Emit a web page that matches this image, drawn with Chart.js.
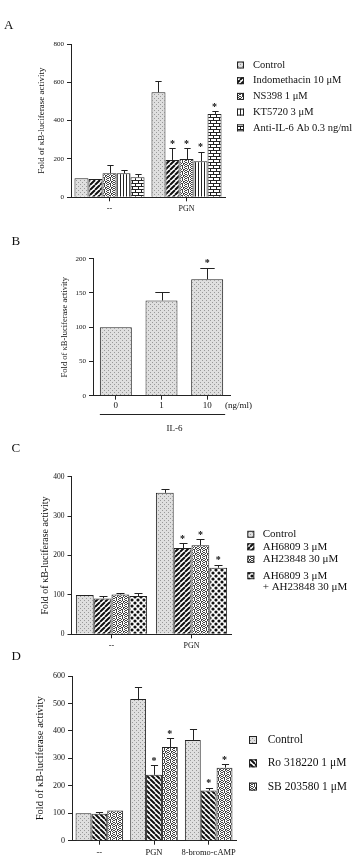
<!DOCTYPE html>
<html>
<head>
<meta charset="utf-8">
<script src="https://cdn.jsdelivr.net/npm/chart.js@4.4.1/dist/chart.umd.min.js"></script>
<style>
  body { margin: 0; background: #fff; }
  #page { position: relative; width: 362px; height: 860px; overflow: hidden; font-family: "Liberation Serif", serif; color: #111; }
  canvas { position: absolute; left: 0; }
  .tag { position: absolute; font-size: 13px; line-height: 13px; }
</style>
</head>
<body>
<div id="page">
  <canvas id="chartA" width="362" height="222" style="top:0px"></canvas>
  <canvas id="chartB" width="362" height="210" style="top:222px"></canvas>
  <canvas id="chartC" width="362" height="222" style="top:432px"></canvas>
  <canvas id="chartD" width="362" height="206" style="top:654px"></canvas>
  <div class="tag" style="left:4px;top:18px">A</div>
  <div class="tag" style="left:11.5px;top:234px">B</div>
  <div class="tag" style="left:11.5px;top:441px">C</div>
  <div class="tag" style="left:11.5px;top:649px">D</div>
</div>
<script>
// panel A
const labelsA = ['--', 'PGN'];
const controlA = [100, 548];
const controlErrA = [0, 60];
const indoA = [96, 195];
const indoErrA = [0, 60];
const ns398A = [126, 200];
const ns398ErrA = [42, 55];
const kt5720A = [125, 188];
const kt5720ErrA = [17, 50];
const antiIL6A = [104, 435];
const antiIL6ErrA = [17, 15];
const starsA = [0, 1];

// panel B
const labelsB = ['0', '1', '10'];
const il6B = [100, 139, 170];
const il6ErrB = [0, 12, 17];
const starsB = [0, 0, 1];

// panel C
const labelsC = ['--', 'PGN'];
const controlC = [100, 359];
const controlErrC = [0, 10];
const ah6809C = [91, 219];
const ah6809ErrC = [5, 12];
const ah23848C = [101, 226];
const ah23848ErrC = [5, 15];
const comboC = [97, 169];
const comboErrC = [9, 7];
const starsC = [0, 1];

// panel D
const labelsD = ['--', 'PGN', '8-bromo-cAMP'];
const controlD = [100, 516, 367];
const controlErrD = [0, 44, 41];
const roD = [98, 240, 183];
const roErrD = [8, 34, 10];
const sbD = [110, 341, 266];
const sbErrD = [0, 32, 13];
const starsD = [0, 1, 1];

const yTitle = 'Fold of κB-luciferase activity';

Chart.defaults.font.family = '"Liberation Serif", "Times New Roman", serif';
Chart.defaults.color = '#111';

function makePattern(kind) {
    const c = document.createElement('canvas');
    let g;
    if (kind === 'control') {
        c.width = 4; c.height = 4; g = c.getContext('2d');
        g.fillStyle = '#dfdfdf'; g.fillRect(0, 0, 4, 4);
        g.fillStyle = '#999'; g.fillRect(0, 0, 1, 1); g.fillRect(2, 2, 1, 1);
    } else if (kind === 'fwd' || kind === 'back') {
        c.width = 5; c.height = 5; g = c.getContext('2d');
        g.fillStyle = '#fff'; g.fillRect(0, 0, 5, 5);
        g.strokeStyle = '#111'; g.lineWidth = 2;
        g.beginPath();
        [-5, 0, 5].forEach(function (k) {
            if (kind === 'fwd') { g.moveTo(k, 5); g.lineTo(k + 5, 0); }
            else { g.moveTo(k, 0); g.lineTo(k + 5, 5); }
        });
        g.stroke();
    } else if (kind === 'speckle') {
        const rows = ['#.#..#', '.#.##.', '#..#.#', '.##.#.', '#.#..#', '..#.#.'];
        c.width = 6; c.height = 6; g = c.getContext('2d');
        g.fillStyle = '#fff'; g.fillRect(0, 0, 6, 6);
        g.fillStyle = '#444';
        rows.forEach(function (r, y) {
            for (let x = 0; x < 6; x++) if (r[x] === '#') g.fillRect(x, y, 1, 1);
        });
    } else if (kind === 'vert') {
        c.width = 3; c.height = 1; g = c.getContext('2d');
        g.fillStyle = '#fff'; g.fillRect(0, 0, 3, 1);
        g.fillStyle = '#222'; g.fillRect(0, 0, 1, 1);
    } else if (kind === 'brick') {
        c.width = 6; c.height = 6; g = c.getContext('2d');
        g.fillStyle = '#fff'; g.fillRect(0, 0, 6, 6);
        g.fillStyle = '#222';
        g.fillRect(0, 0, 6, 1); g.fillRect(0, 3, 6, 1);
        g.fillRect(0, 1, 1, 2); g.fillRect(3, 4, 1, 2);
    } else if (kind === 'dots') {
        c.width = 6; c.height = 6; g = c.getContext('2d');
        g.fillStyle = '#fff'; g.fillRect(0, 0, 6, 6);
        g.fillStyle = '#111';
        [[0, 0], [6, 0], [0, 6], [6, 6], [3, 3]].forEach(function (p) {
            g.beginPath(); g.arc(p[0], p[1], 1.6, 0, Math.PI * 2); g.fill();
        });
    }
    return g.createPattern(c, 'repeat');
}

const errorMarks = {
    id: 'errorMarks',
    afterDatasetsDraw(chart) {
        const ctx = chart.ctx, yScale = chart.scales.y;
        ctx.save();
        ctx.strokeStyle = '#222';
        ctx.lineWidth = 1;
        ctx.fillStyle = '#111';
        ctx.textAlign = 'center';
        ctx.textBaseline = 'alphabetic';
        ctx.font = 'bold 10px "Liberation Serif"';
        chart.data.datasets.forEach(function (ds, i) {
            chart.getDatasetMeta(i).data.forEach(function (bar, j) {
                const err = ds.errors ? ds.errors[j] : 0;
                let top = bar.y;
                if (err > 0) {
                    top = yScale.getPixelForValue(ds.data[j] + err);
                    const cap = bar.width * 0.45;
                    const cx = Math.round(bar.x) + 0.5;
                    const ty = Math.round(top) + 0.5;
                    ctx.beginPath();
                    ctx.moveTo(cx, bar.y);
                    ctx.lineTo(cx, ty);
                    ctx.moveTo(cx - cap / 2, ty);
                    ctx.lineTo(cx + cap / 2, ty);
                    ctx.stroke();
                }
                if (ds.stars && ds.stars[j]) ctx.fillText('*', bar.x, top - 1.5);
            });
        });
        ctx.restore();
    }
};

const boxLegend = {
    id: 'boxLegend',
    afterDraw(chart, args, o) {
        const ctx = chart.ctx;
        let y = o.top;
        ctx.save();
        ctx.font = o.size + 'px "Liberation Serif"';
        ctx.textBaseline = 'middle';
        ctx.textAlign = 'left';
        chart.data.datasets.forEach(function (ds) {
            const lines = ds.label.split('\n');
            if (lines.length > 1) y += o.extra;
            ctx.fillStyle = ds.backgroundColor;
            ctx.fillRect(o.x, y - o.box / 2, o.box, o.box);
            ctx.strokeStyle = '#222';
            ctx.lineWidth = 1;
            ctx.strokeRect(o.x + 0.5, y - o.box / 2 + 0.5, o.box - 1, o.box - 1);
            ctx.fillStyle = '#111';
            lines.forEach(function (t, k) { ctx.fillText(t, o.textX, y + k * o.lineHeight); });
            y += o.gap + (lines.length - 1) * o.lineHeight;
        });
        ctx.restore();
    }
};

const doseAxis = {
    id: 'doseAxis',
    afterDraw(chart, args, o) {
        const ctx = chart.ctx, area = chart.chartArea;
        const bars = chart.getDatasetMeta(0).data;
        const first = bars[0], last = bars[bars.length - 1];
        const x1 = first.x - first.width / 2, x2 = last.x + last.width / 2 + 2;
        ctx.save();
        ctx.fillStyle = '#111';
        ctx.font = o.size + 'px "Liberation Serif"';
        ctx.textBaseline = 'middle';
        ctx.textAlign = 'left';
        ctx.fillText(o.unit, area.right - 5, area.bottom + 9.5);
        ctx.strokeStyle = '#222';
        ctx.lineWidth = 1;
        ctx.beginPath();
        ctx.moveTo(x1, Math.round(area.bottom + 18.3) + 0.5);
        ctx.lineTo(x2, Math.round(area.bottom + 18.3) + 0.5);
        ctx.stroke();
        ctx.textAlign = 'center';
        ctx.fillText(o.group, (x1 + x2) / 2 + 12, area.bottom + 32.6);
        ctx.restore();
    }
};

function barChart(id, labels, datasets, o) {
    var ctx = document.getElementById(id).getContext('2d');
    return new Chart(ctx, {
        type: 'bar',
        data: { labels: labels, datasets: datasets },
        options: {
            responsive: false,
            animation: false,
            devicePixelRatio: 1,
            layout: { padding: { top: o.top, right: o.right, left: o.left, bottom: 0 } },
            datasets: {
                bar: { barPercentage: 1, categoryPercentage: o.cat, borderWidth: 1, borderColor: '#222' }
            },
            scales: {
                x: {
                    grid: { offset: false, drawOnChartArea: false, tickLength: 4, color: '#222' },
                    border: { color: '#222' },
                    ticks: { font: { size: o.xFont }, padding: o.xPad, maxRotation: 0, autoSkip: false },
                    afterFit: function (s) { s.height = o.xHeight; }
                },
                y: {
                    min: 0,
                    max: o.max,
                    ticks: { stepSize: o.step, font: { size: o.yFont }, padding: 3 },
                    grid: { drawOnChartArea: false, tickLength: 4, color: '#222' },
                    border: { color: '#222' },
                    title: { display: true, text: yTitle, font: { size: o.titleFont }, padding: 0 },
                    afterFit: function (s) { s.width = o.yWidth; }
                }
            },
            plugins: {
                legend: { display: false },
                tooltip: { enabled: false },
                boxLegend: o.legend || false,
                doseAxis: o.dose || false
            }
        },
        plugins: [errorMarks, boxLegend, doseAxis]
    });
}

const pControl = makePattern('control');
const pFwd = makePattern('fwd');
const pBack = makePattern('back');
const pSpeckle = makePattern('speckle');
const pVert = makePattern('vert');
const pBrick = makePattern('brick');
const pDots = makePattern('dots');

barChart('chartA', labelsA, [
    { label: 'Control', data: controlA, errors: controlErrA, backgroundColor: pControl },
    { label: 'Indomethacin 10 μM', data: indoA, errors: indoErrA, stars: starsA, backgroundColor: pFwd },
    { label: 'NS398 1 μM', data: ns398A, errors: ns398ErrA, stars: starsA, backgroundColor: pSpeckle },
    { label: 'KT5720 3 μM', data: kt5720A, errors: kt5720ErrA, stars: starsA, backgroundColor: pVert },
    { label: 'Anti-IL-6 Ab 0.3 ng/ml', data: antiIL6A, errors: antiIL6ErrA, stars: starsA, backgroundColor: pBrick }
], {
    top: 44, right: 137, left: 36.6, yWidth: 34.4, xHeight: 24.7, cat: 0.91,
    max: 800, step: 200, yFont: 7, xFont: 8, xPad: 3, titleFont: 9,
    legend: { x: 237, top: 65, box: 7, textX: 253, gap: 15.7, size: 10.5, lineHeight: 11, extra: 0 }
});

barChart('chartB', labelsB, [
    { label: 'IL-6', data: il6B, errors: il6ErrB, stars: starsB, backgroundColor: pControl }
], {
    top: 36.7, right: 132, left: 59.9, yWidth: 33.1, xHeight: 36.3, cat: 0.7,
    max: 200, step: 50, yFont: 7, xFont: 9, xPad: 1, titleFont: 8.5,
    dose: { unit: '(ng/ml)', group: 'IL-6', size: 9 }
});

barChart('chartC', labelsC, [
    { label: 'Control', data: controlC, errors: controlErrC, backgroundColor: pControl },
    { label: 'AH6809 3 μM', data: ah6809C, errors: ah6809ErrC, stars: starsC, backgroundColor: pFwd },
    { label: 'AH23848 30 μM', data: ah23848C, errors: ah23848ErrC, stars: starsC, backgroundColor: pSpeckle },
    { label: 'AH6809 3 μM\n+ AH23848 30 μM', data: comboC, errors: comboErrC, stars: starsC, backgroundColor: pDots }
], {
    top: 44.7, right: 130.5, left: 39, yWidth: 32.5, xHeight: 19.7, cat: 0.89,
    max: 400, step: 100, yFont: 7.5, xFont: 8, xPad: 3, titleFont: 10,
    legend: { x: 247.3, top: 102.3, box: 7, textX: 262.7, gap: 12.5, size: 11, lineHeight: 11, extra: 3.9 }
});

barChart('chartD', labelsD, [
    { label: 'Control', data: controlD, errors: controlErrD, backgroundColor: pControl },
    { label: 'Ro 318220 1 μM', data: roD, errors: roErrD, stars: starsD, backgroundColor: pBack },
    { label: 'SB 203580 1 μM', data: sbD, errors: sbErrD, stars: starsD, backgroundColor: pSpeckle }
], {
    top: 22, right: 126, left: 33.7, yWidth: 38.3, xHeight: 19.3, cat: 0.87,
    max: 600, step: 100, yFont: 8, xFont: 8.5, xPad: 3, titleFont: 10.5,
    legend: { x: 249, top: 86, box: 8, textX: 267.7, gap: 23.3, size: 11.5, lineHeight: 11.5, extra: 0 }
});
</script>
</body>
</html>
